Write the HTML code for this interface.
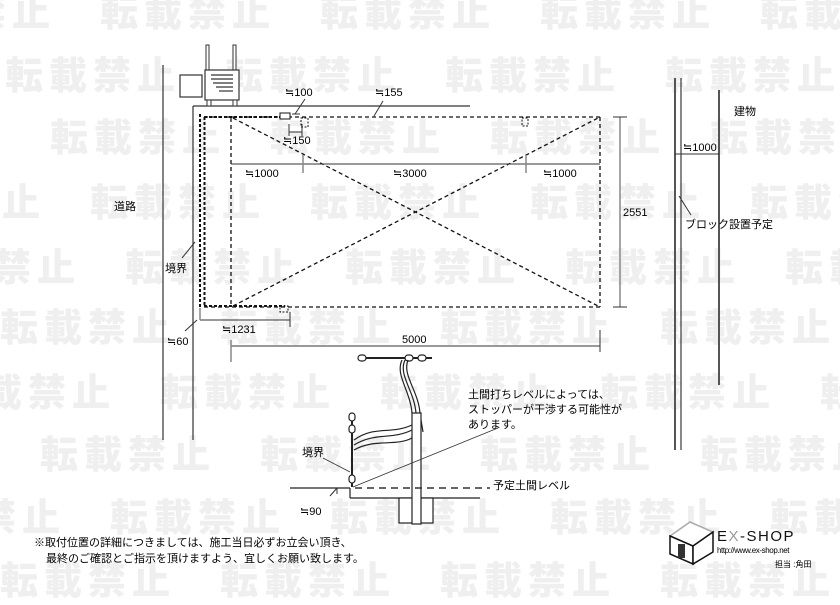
<!DOCTYPE html>
<html><head><meta charset="utf-8">
<style>
html,body{margin:0;padding:0;background:#fff;}
body{width:840px;height:594px;overflow:hidden;position:relative;font-family:"Liberation Sans","Noto Sans CJK JP",sans-serif;}
.wm{position:absolute;left:0;white-space:nowrap;font-family:"Noto Sans CJK JP",sans-serif;font-weight:900;font-size:38px;color:#efefef;letter-spacing:6px;line-height:40px;}
svg{position:absolute;left:0;top:0;}
</style></head><body>
<div class="wm" style="top:-10px;left:-120px">転載禁止　転載禁止　転載禁止　転載禁止　転載禁止</div>
<div class="wm" style="top:53px;left:5px">転載禁止　転載禁止　転載禁止　転載禁止　転載禁止</div>
<div class="wm" style="top:115px;left:50px">転載禁止　転載禁止　転載禁止　転載禁止　転載禁止</div>
<div class="wm" style="top:180px;left:-130px">転載禁止　転載禁止　転載禁止　転載禁止　転載禁止</div>
<div class="wm" style="top:245px;left:-95px">転載禁止　転載禁止　転載禁止　転載禁止　転載禁止</div>
<div class="wm" style="top:305px;left:0px">転載禁止　転載禁止　転載禁止　転載禁止　転載禁止</div>
<div class="wm" style="top:370px;left:-60px">転載禁止　転載禁止　転載禁止　転載禁止　転載禁止</div>
<div class="wm" style="top:432px;left:40px">転載禁止　転載禁止　転載禁止　転載禁止　転載禁止</div>
<div class="wm" style="top:495px;left:-110px">転載禁止　転載禁止　転載禁止　転載禁止　転載禁止</div>
<div class="wm" style="top:558px;left:0px">転載禁止　転載禁止　転載禁止　転載禁止　転載禁止</div>

<svg width="840" height="594" viewBox="0 0 840 594" font-family="Liberation Sans, Noto Sans CJK JP, sans-serif" font-size="11" fill="#000">
<line x1="163" y1="65" x2="163" y2="440" stroke="#333" stroke-width="1.2"/>
<line x1="193" y1="106" x2="193" y2="440" stroke="#333" stroke-width="1.2"/>
<line x1="193" y1="106" x2="470" y2="106" stroke="#333" stroke-width="1.2"/>
<rect x="180" y="75" width="22" height="22" fill="#fff" stroke="#333" stroke-width="1.2"/>
<rect x="206" y="45" width="3" height="25" fill="#fff" stroke="#333"/>
<rect x="233" y="45" width="3" height="25" fill="#fff" stroke="#333"/>
<rect x="205" y="70" width="34" height="30" fill="#fff" stroke="#333" stroke-width="1.2"/>
<g stroke="#333" stroke-width="1.2"><line x1="211" y1="75" x2="233" y2="75"/><line x1="211" y1="79" x2="233" y2="79"/><line x1="213" y1="83" x2="233" y2="83"/><line x1="216" y1="87" x2="233" y2="87"/><line x1="219" y1="91" x2="233" y2="91"/></g>
<rect x="207" y="100" width="4" height="6" fill="#fff" stroke="#333"/><rect x="233" y="100" width="4" height="6" fill="#fff" stroke="#333"/>
<g fill="none" stroke="#111" stroke-dasharray="4,3" stroke-width="1.3">
<line x1="204" y1="117" x2="600" y2="117"/>
<line x1="204" y1="307" x2="600" y2="307"/>
<line x1="231" y1="118" x2="231" y2="306"/>
<line x1="600" y1="117" x2="600" y2="307"/>
<line x1="233" y1="118" x2="600" y2="307"/>
<line x1="233" y1="306" x2="600" y2="117"/>
</g>
<g fill="none" stroke="#111" stroke-dasharray="3,2" stroke-width="2">
<line x1="200" y1="114" x2="200" y2="308"/>
<line x1="204.5" y1="117" x2="204.5" y2="306"/>
<line x1="204" y1="117" x2="283" y2="117"/>
<line x1="204" y1="306" x2="285" y2="306"/>
</g>
<rect x="280" y="113" width="10" height="6" fill="#fff" stroke="#111"/>
<rect x="301" y="118" width="7" height="9" fill="none" stroke="#111" stroke-dasharray="2,1.5"/>
<rect x="522" y="118" width="6" height="8" fill="none" stroke="#111" stroke-dasharray="2,1.5"/>
<rect x="280" y="306" width="8" height="6" fill="none" stroke="#111" stroke-dasharray="2,1.5"/>
<g stroke="#333" stroke-width="1">
<line x1="295" y1="114" x2="305" y2="99"/><line x1="292" y1="114" x2="300" y2="114"/>
<line x1="374" y1="116" x2="383" y2="101"/>
<line x1="289" y1="124" x2="289" y2="136"/><line x1="289" y1="132" x2="302" y2="132"/><line x1="302" y1="124" x2="302" y2="136"/>
<line x1="231" y1="164" x2="600" y2="164"/>
<line x1="195" y1="242" x2="182" y2="258"/>
<line x1="200" y1="320" x2="290" y2="320"/><line x1="290" y1="312" x2="290" y2="327"/>
<line x1="197" y1="320" x2="185" y2="331"/>
<line x1="231" y1="346" x2="600" y2="346"/><line x1="600" y1="330" x2="600" y2="352"/>
</g>
<g stroke="#888" stroke-width="1.5">
<line x1="303" y1="155" x2="303" y2="173"/><line x1="526" y1="155" x2="526" y2="173"/>
<line x1="231" y1="340" x2="231" y2="362"/>
<line x1="620" y1="117" x2="620" y2="307"/>
<line x1="200" y1="308" x2="200" y2="320"/>
</g>
<line x1="613" y1="117" x2="627" y2="117" stroke="#333"/><line x1="613" y1="307" x2="627" y2="307" stroke="#333"/>
<text x="285" y="96">≒100</text><text x="375" y="96">≒155</text>
<text x="283" y="144">≒150</text>
<text x="245" y="177">≒1000</text><text x="393" y="177">≒3000</text><text x="543" y="177">≒1000</text>
<text x="623" y="216">2551</text>
<text x="114" y="210">道路</text><text x="165" y="272">境界</text>
<text x="222" y="333">≒1231</text><text x="167" y="345">≒60</text>
<text x="402" y="343">5000</text>
<line x1="675" y1="78" x2="675" y2="450" stroke="#555" stroke-width="2"/>
<line x1="681" y1="78" x2="681" y2="450" stroke="#111" stroke-width="1"/>
<line x1="719" y1="90" x2="719" y2="385" stroke="#555" stroke-width="2"/>
<line x1="675" y1="154" x2="719" y2="154" stroke="#333"/>
<line x1="679" y1="196" x2="691" y2="215" stroke="#333"/>
<text x="734" y="115">建物</text><text x="683" y="151">≒1000</text>
<text x="685" y="228">ブロック設置予定</text>
<g stroke="#222" fill="none" stroke-width="1.2">
<line x1="290" y1="488" x2="350" y2="488"/>
<line x1="350" y1="488" x2="350" y2="498"/>
<line x1="350" y1="498" x2="480" y2="498"/>
<rect x="399" y="498" width="34" height="25" fill="#fff"/>
<rect x="412" y="413" width="9" height="111" fill="#fff"/>
<line x1="360" y1="358" x2="432" y2="358" stroke-width="2"/>
<rect x="358" y="355" width="8" height="6" rx="3" fill="#fff"/><rect x="405" y="355" width="8" height="6" rx="3" fill="#fff"/><rect x="418" y="355" width="8" height="6" rx="3" fill="#fff"/>
<path d="M402 360 C395 375 410 390 412 413 M405 360 C398 375 414 390 416 413 M408 360 C402 375 418 390 420 413"/>
<line x1="352" y1="413" x2="352" y2="487" stroke-width="2"/>
<rect x="349" y="413" width="6" height="8" rx="3" fill="#fff"/><rect x="349" y="425" width="6" height="8" rx="3" fill="#fff"/><rect x="349" y="475" width="6" height="8" rx="3" fill="#fff"/>
<path d="M354 440 C375 425 390 435 412 425 M354 445 C375 432 392 440 412 430 M354 450 C375 438 395 447 412 438"/>
<line x1="421" y1="420" x2="423" y2="432"/>
</g>
<line x1="355" y1="488" x2="490" y2="488" stroke="#333" stroke-width="1.5" stroke-dasharray="7,5"/>
<line x1="353" y1="487" x2="498" y2="428" stroke="#333" stroke-width="0.8"/>
<line x1="323" y1="458" x2="350" y2="472" stroke="#333" stroke-width="0.8"/>
<line x1="337" y1="488" x2="330" y2="496" stroke="#333"/><line x1="337" y1="488" x2="337" y2="494" stroke="#333"/>
<text x="468" y="398">土間打ちレベルによっては、</text>
<text x="468" y="413">ストッパーが干渉する可能性が</text>
<text x="468" y="428">あります。</text>
<text x="302" y="456">境界</text>
<text x="493" y="489">予定土間レベル</text>
<text x="300" y="515">≒90</text>
<text x="34" y="546" font-size="11">※取付位置の詳細につきましては、施工当日必ずお立会い頂き、</text>
<text x="46" y="562" font-size="11">最終のご確認とご指示を頂けますよう、宜しくお願い致します。</text>
<polygon points="670,536 690,522 713,532 693,546" fill="#fff" stroke="#aaa" stroke-width="1.5"/>
<polygon points="670,536 693,546 693,564 670,554" fill="#fff" stroke="#111" stroke-width="1.5"/>
<polygon points="693,546 713,532 713,552 693,564" fill="#fff" stroke="#111" stroke-width="1.5"/>
<rect x="678" y="544" width="7" height="14" fill="#333"/>
<text x="717" y="541" font-size="15" letter-spacing="1.5" fill="#111">E<tspan fill="#999">X</tspan>-SHOP</text>
<text x="717" y="553" font-size="8" letter-spacing="-0.4">http://www.ex-shop.net</text>
<text x="775" y="567" font-size="8">担当 :角田</text>
</svg>
</body></html>
